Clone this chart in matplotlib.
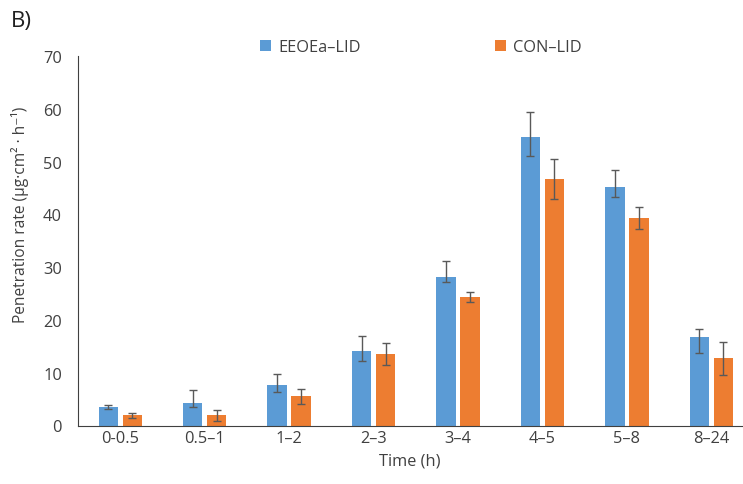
import matplotlib.pyplot as plt
import numpy as np

plt.rcParams['font.family'] = ['Open Sans', 'DejaVu Sans']

categories = ["0-0.5", "0.5\u20131", "1\u20132", "2\u20133", "3\u20134", "4\u20135", "5\u20138", "8\u201324"]
eeoea = [3.5, 4.3, 7.7, 14.1, 28.1, 54.7, 45.2, 16.7]
eeoea_lo = [0.3, 0.8, 1.3, 1.9, 0.9, 3.6, 2.0, 3.0]
eeoea_hi = [0.3, 2.4, 2.1, 2.9, 3.0, 4.7, 3.2, 1.5]
con = [1.9, 1.9, 5.5, 13.6, 24.3, 46.7, 39.3, 12.7]
con_err = [0.4, 1.0, 1.4, 2.1, 0.9, 3.7, 2.0, 3.2]

blue = "#5B9BD5"
orange = "#ED7D31"
txt = "#404040"
fs = 11.8

fig = plt.figure(figsize=(7.43, 4.85), dpi=100)
ax = fig.add_axes([78 / 743, 58.5 / 485, 664 / 743, 369.5 / 485])

x = np.arange(len(categories))
w = 0.23
off = 0.142
err_kw = dict(ecolor="#595959", elinewidth=1, capsize=3, capthick=1)
ax.bar(x - off, eeoea, w, color=blue, yerr=[eeoea_lo, eeoea_hi], error_kw=err_kw, label="EEOEa\u2013LID")
ax.bar(x + off, con, w, color=orange, yerr=con_err, error_kw=err_kw, label="CON\u2013LID")

ax.set_xlim(-0.5, -0.5 + 664 / 84.45)
ax.set_ylim(0, 70)
ax.set_yticks(range(0, 71, 10))
ax.set_xticks(x)
ax.set_xticklabels(categories)
ax.tick_params(length=0, labelsize=fs, labelcolor=txt)
ax.tick_params(axis="x", pad=3)
ax.tick_params(axis="y", pad=11.5)
for s in ["top", "right"]:
    ax.spines[s].set_visible(False)
ax.spines["left"].set_color("#404040")
ax.spines["bottom"].set_color("#404040")

ax.set_xlabel("Time (h)", fontsize=fs, color=txt, labelpad=5)
fig.text(0.027, 1 - 215 / 485, "Penetration rate (\u00b5g\u00b7cm\u00b2 \u00b7 h\u207b\u00b9)",
         rotation=90, ha="center", va="center", fontsize=11.2, color=txt)
fig.text(0.015, 0.955, "B)", fontsize=16, color="#202020", ha="left", va="center")

fig.legend(loc="center", bbox_to_anchor=(0.567, 0.901), ncol=2, frameon=False,
           handlelength=0.65, handleheight=0.65, handletextpad=0.45, columnspacing=8.2,
           prop={"size": fs}, labelcolor=txt)

fig.savefig("out.png", dpi=100)
